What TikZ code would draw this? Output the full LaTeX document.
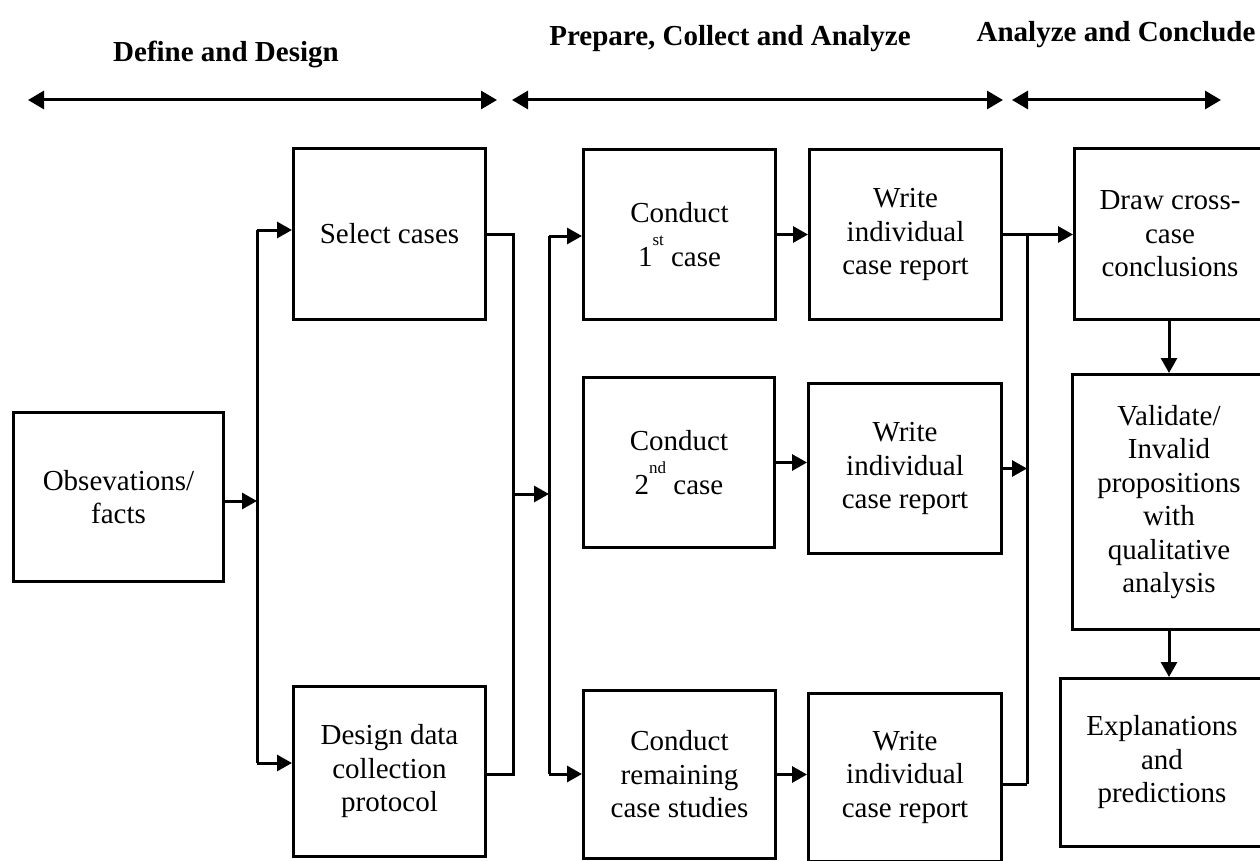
\documentclass[tikz,border=0pt]{standalone}
\usepackage{fontspec}
\setmainfont{Liberation Serif}
\usetikzlibrary{arrows.meta}
\begin{document}
\begin{tikzpicture}[x=1pt,y=-1pt,
  box/.style={draw, line width=3pt, rectangle, align=center, inner sep=0pt, font=\fontsize{29}{33.5}\selectfont},
  arr/.style={line width=3pt, -{Triangle[length=15pt,width=16pt]}},
  ln/.style={line width=3pt},
  harr/.style={line width=3pt, {Triangle[length=16pt,width=18pt]}-{Triangle[length=16pt,width=18pt]}},
  hdr/.style={font=\fontsize{29}{33.5}\selectfont\bfseries, anchor=base, inner sep=0pt}]
\newcommand{\supx}[1]{\raisebox{21pt}{\fontsize{17}{17}\selectfont #1}}
\clip (0,0) rectangle (1260,861);
\fill[white] (0,0) rectangle (1260,861);

% headers
\node[hdr] (t1) at (226,62) {Define and Design};
\node[hdr] (t2) at (730,46) {Prepare, Collect and Analyze};
\node[hdr] (t3) at (1116,42) {Analyze and Conclude};
\coordinate (h1l) at (28,100); \coordinate (h1r) at (497,100);
\coordinate (h2l) at (512,100); \coordinate (h2r) at (1003,100);
\coordinate (h3l) at (1012,100); \coordinate (h3r) at (1221,100);
\draw[harr] (h1l) -- (h1r);
\draw[harr] (h2l) -- (h2r);
\draw[harr] (h3l) -- (h3r);

% boxes
\node[box, minimum width=210pt, minimum height=169pt] (obs) at (118.5,497) {Obsevations/\\facts};
\node[box, minimum width=192pt, minimum height=171pt] (sel) at (389.5,234) {Select cases};
\node[box, minimum width=192pt, minimum height=170pt] (des) at (389.5,771.5) {Design data\\collection\\protocol};
\node[box, minimum width=192pt, minimum height=170pt] (c1) at (679.5,234.5) {Conduct\\[10pt]1\supx{st} case};
\node[box, minimum width=192pt, minimum height=170pt] (w1) at (905.5,234.5) {Write\\individual\\case report};
\node[box, minimum width=191pt, minimum height=170pt] (c2) at (679,462.5) {Conduct\\[10pt]2\supx{nd} case};
\node[box, minimum width=193pt, minimum height=170pt] (w2) at (905,468.5) {Write\\individual\\case report};
\node[box, minimum width=192pt, minimum height=168pt] (c3) at (679.5,774.5) {Conduct\\remaining\\case studies};
\node[box, minimum width=193pt, minimum height=168pt] (w3) at (905,777) {Write\\individual\\case report};
\node[box, minimum width=191pt, minimum height=171pt] (drw) at (1170,234) {Draw cross-\\case\\conclusions};
\node[box, minimum width=193pt, minimum height=255pt] (val) at (1169,502) {Validate/\\Invalid\\propositions\\with\\qualitative\\analysis};
\node[box, minimum width=203pt, minimum height=168pt] (exq) at (1162,762.5) {Explanations\\and\\predictions};

% bus 1
\coordinate (b1) at (257,501);
\coordinate (b1t) at (257,230);
\coordinate (b1b) at (257,763);
\draw[arr] (obs.east |- b1) -- (b1);
\draw[ln] (b1t) -- (b1b);
\draw[arr] (b1t) -- (b1t -| sel.west);
\draw[arr] (b1b) -- (b1b -| des.west);

% bus 2
\coordinate (b2t) at (513,234);
\coordinate (b2m) at (513,494);
\coordinate (b2b) at (513,774);
\draw[ln] (sel.east |- b2t) -- (b2t) -- (b2b) -- (des.east |- b2b);

% bus 3
\coordinate (b3t) at (549,236);
\coordinate (b3m) at (549,494);
\coordinate (b3b) at (549,774);
\draw[arr] (b2m) -- (b3m);
\draw[ln] (b3t) -- (b3b);
\draw[arr] (b3t) -- (b3t -| c1.west);
\draw[arr] (b3b) -- (b3b -| c3.west);

% conduct -> write
\draw[arr] (c1.east) -- (c1.east -| w1.west);
\draw[arr] (c2.east) -- (c2.east -| w2.west);
\draw[arr] (c3.east) -- (c3.east -| w3.west);

% bus 4
\coordinate (b4t) at (1027,233);
\coordinate (b4b) at (1027,784);
\draw[ln] (b4t) -- (b4b);
\draw[arr] (w1.east) -- (w1.east -| drw.west);
\draw[arr] (w2.east) -- (w2.east -| b4t);
\draw[ln] (w3.east |- b4b) -- (b4b);

% right column
\draw[arr] (val.north |- drw.south) -- (val.north);
\draw[arr] (val.south) -- (val.south |- exq.north);
\end{tikzpicture}
\end{document}
